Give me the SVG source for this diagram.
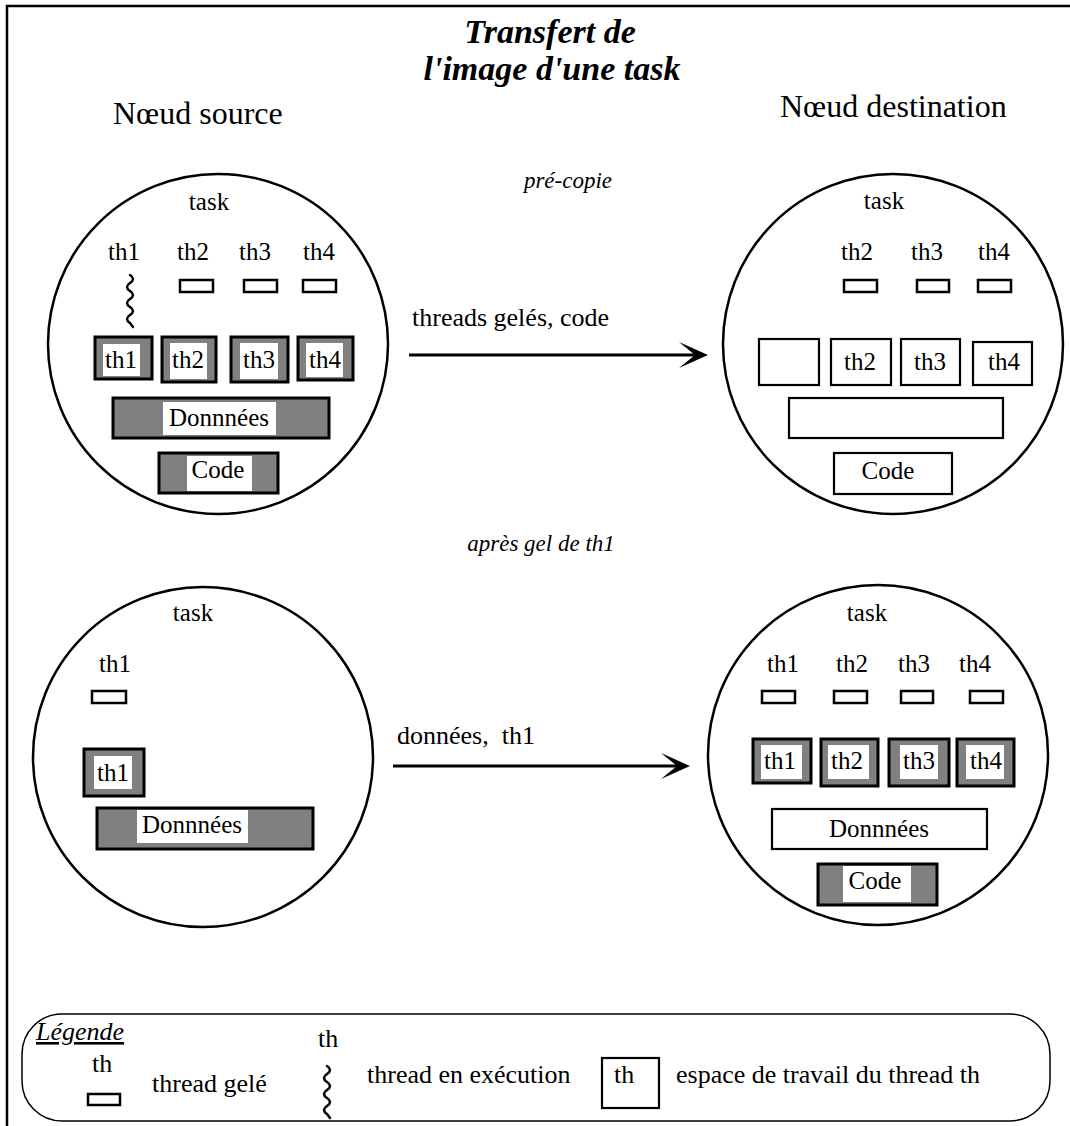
<svg xmlns="http://www.w3.org/2000/svg" width="1070" height="1126" viewBox="0 0 1070 1126" font-family="Liberation Serif, Times New Roman, serif">
<style>
text{font-family:"Liberation Serif","Times New Roman",serif;fill:#000}
.t{font-size:25px;text-anchor:middle}
.lg{font-size:26px}
.it{font-style:italic;font-size:23px;text-anchor:middle}
.title{font-style:italic;font-weight:bold;font-size:34px;text-anchor:middle}
.node{font-size:32px}
.circ{fill:#fff;stroke:#000;stroke-width:2.5}
.fr{fill:#fff;stroke:#000;stroke-width:2.5}
.gray{fill:#808080;stroke:#000;stroke-width:3}
.wb{fill:#fff;stroke:none}
.box{fill:#fff;stroke:#000;stroke-width:2.2}
.wave{fill:none;stroke:#000;stroke-width:2.5;stroke-linecap:round}
.arr{stroke:#000;stroke-width:3;fill:none}
</style>
<defs>
<path id="wv" d="M0,0 Q6,4 0,8 Q-6,12 0,16 Q6,20 0,24 Q-6,28 0,32 Q6,36 0,40 Q-6,44 0,48 L3,52"/>
</defs>
<rect width="1070" height="1126" fill="#fff"/>
<path d="M7,1126 V6 H1070" fill="none" stroke="#000" stroke-width="2.5"/>
<g id="title">
<text class="title" x="550" y="43">Transfert de</text>
<text class="title" x="552" y="80">l'image d'une task</text>
</g>
<text class="node" x="113" y="124">Nœud source</text>
<text class="node" x="780" y="117">Nœud destination</text>
<text class="it" x="568" y="188">pré-copie</text>
<text class="it" x="541" y="551">après gel de th1</text>

<g id="src1">
<circle class="circ" cx="218" cy="344" r="170"/>
<text class="t" x="209" y="210">task</text>
<text class="t" x="124" y="260">th1</text>
<text class="t" x="193" y="260">th2</text>
<text class="t" x="255" y="260">th3</text>
<text class="t" x="319" y="260">th4</text>
<use href="#wv" class="wave" x="130" y="275"/>
<rect class="fr" x="180" y="280" width="33" height="12"/>
<rect class="fr" x="244" y="280" width="33" height="12"/>
<rect class="fr" x="303" y="280" width="33" height="12"/>
<rect class="gray" x="95" y="337" width="57" height="42"/><rect class="wb" x="103" y="344" width="37" height="32"/><text class="t" x="121" y="368">th1</text>
<rect class="gray" x="162" y="337" width="54" height="45"/><rect class="wb" x="170" y="343" width="37" height="36"/><text class="t" x="188" y="368">th2</text>
<rect class="gray" x="231" y="337" width="57" height="45"/><rect class="wb" x="240" y="343" width="38" height="36"/><text class="t" x="259" y="368">th3</text>
<rect class="gray" x="298" y="337" width="55" height="43"/><rect class="wb" x="306" y="343" width="37" height="34"/><text class="t" x="325" y="368">th4</text>
<rect class="gray" x="113" y="398" width="216" height="40"/><rect class="wb" x="163" y="402" width="113" height="33"/><text class="t" x="219" y="426">Donnnées</text>
<rect class="gray" x="159" y="453" width="119" height="40"/><rect class="wb" x="187" y="456" width="65" height="35"/><text class="t" x="218" y="478">Code</text>
</g>

<g id="dst1">
<circle class="circ" cx="893" cy="344" r="170"/>
<text class="t" x="884" y="209">task</text>
<text class="t" x="857" y="260">th2</text>
<text class="t" x="927" y="260">th3</text>
<text class="t" x="994" y="260">th4</text>
<rect class="fr" x="844" y="280" width="33" height="12"/>
<rect class="fr" x="917" y="280" width="32" height="12"/>
<rect class="fr" x="978" y="280" width="33" height="12"/>
<rect class="box" x="759" y="339" width="60" height="46"/>
<rect class="box" x="831" y="339" width="60" height="46"/><text class="t" x="860" y="370">th2</text>
<rect class="box" x="901" y="339" width="59" height="46"/><text class="t" x="930" y="370">th3</text>
<rect class="box" x="973" y="342" width="59" height="43"/><text class="t" x="1004" y="370">th4</text>
<rect class="box" x="789" y="398" width="214" height="40"/>
<rect class="box" x="834" y="453" width="118" height="41"/><text class="t" x="888" y="479">Code</text>
</g>

<g id="src2">
<circle class="circ" cx="203" cy="757" r="170"/>
<text class="t" x="193" y="621">task</text>
<text class="t" x="115" y="672">th1</text>
<rect class="fr" x="92" y="691" width="34" height="12"/>
<rect class="gray" x="84" y="749" width="60" height="47"/><rect class="wb" x="94" y="756" width="38" height="33"/><text class="t" x="113" y="781">th1</text>
<rect class="gray" x="97" y="808" width="216" height="41"/><rect class="wb" x="137" y="810" width="111" height="33"/><text class="t" x="192" y="833">Donnnées</text>
</g>

<g id="dst2">
<circle class="circ" cx="878" cy="755" r="170"/>
<text class="t" x="867" y="621">task</text>
<text class="t" x="783" y="672">th1</text>
<text class="t" x="852" y="672">th2</text>
<text class="t" x="914" y="672">th3</text>
<text class="t" x="975" y="672">th4</text>
<rect class="fr" x="762" y="691" width="33" height="12"/>
<rect class="fr" x="834" y="691" width="33" height="12"/>
<rect class="fr" x="901" y="691" width="32" height="12"/>
<rect class="fr" x="970" y="691" width="33" height="12"/>
<rect class="gray" x="753" y="739" width="58" height="44"/><rect class="wb" x="761" y="745" width="41" height="34"/><text class="t" x="780" y="769">th1</text>
<rect class="gray" x="821" y="739" width="57" height="47"/><rect class="wb" x="828" y="745" width="41" height="34"/><text class="t" x="847" y="769">th2</text>
<rect class="gray" x="889" y="739" width="60" height="47"/><rect class="wb" x="900" y="745" width="38" height="34"/><text class="t" x="919" y="769">th3</text>
<rect class="gray" x="957" y="739" width="57" height="47"/><rect class="wb" x="966" y="745" width="38" height="34"/><text class="t" x="986" y="769">th4</text>
<rect class="box" x="772" y="809" width="215" height="40"/><text class="t" x="879" y="837">Donnnées</text>
<rect class="gray" x="818" y="864" width="119" height="41"/><rect class="wb" x="843" y="866" width="68" height="36"/><text class="t" x="875" y="889">Code</text>
</g>

<g id="connectors">
<line class="arr" x1="409" y1="355" x2="700" y2="355"/>
<path d="M708,355 L679,342 L695,355 L679,368 Z" fill="#000"/>
<text class="lg" x="412" y="326">threads gelés, code</text>
<line class="arr" x1="393" y1="766" x2="682" y2="766"/>
<path d="M690,766 L661,753 L677,766 L661,779 Z" fill="#000"/>
<text class="lg" x="397" y="744" xml:space="preserve">données,  th1</text>
</g>

<g id="legend">
<rect x="22" y="1014" width="1028" height="107" rx="40" ry="40" fill="none" stroke="#000" stroke-width="1.5"/>
<text x="36" y="1040" style="font-size:26px;font-style:italic;text-decoration:underline">Légende</text>
<text class="lg" x="92" y="1072">th</text>
<rect class="fr" x="88" y="1094" width="32" height="11"/>
<text class="lg" x="152" y="1092">thread gelé</text>
<text class="lg" x="318" y="1047">th</text>
<use href="#wv" class="wave" x="327" y="1066"/>
<text class="lg" x="367" y="1083">thread en exécution</text>
<rect class="box" x="602" y="1058" width="57" height="50"/>
<text class="lg" x="614" y="1083">th</text>
<text class="lg" x="676" y="1083">espace de travail du thread th</text>
</g>
</svg>
